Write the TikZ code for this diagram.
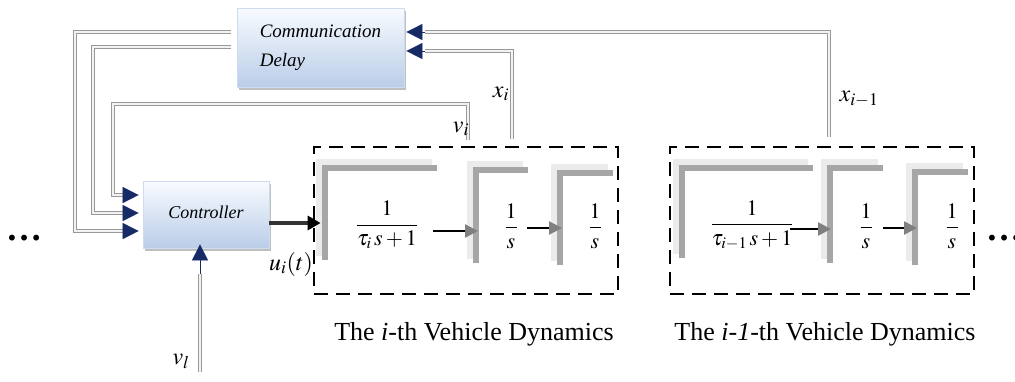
\documentclass[tikz,border=0pt]{standalone}
\usepackage{mathptmx}
\usepackage{fontspec}
\setmainfont{Liberation Serif}
\usetikzlibrary{arrows.meta,shadows,calc}
\definecolor{navyc}{RGB}{22,42,102}
\definecolor{boxtop}{RGB}{248,251,255}
\definecolor{boxbot}{RGB}{186,205,232}
\definecolor{boxedge}{RGB}{205,220,238}
\newcommand\grayL[4]{%
  \draw[lightL] (#1-5,#4-4) -- (#1-5,#2-5) -- (#3-5,#2-5);
  \draw[darkL] (#1,#4) -- (#1,#2) -- (#3,#2);}
\begin{document}
\begin{tikzpicture}[x=1pt,y=-1pt,
  blockbox/.style={rectangle, draw=boxedge, line width=0.6pt, top color=boxtop, bottom color=boxbot,
    drop shadow={shadow xshift=1.5pt, shadow yshift=-2.5pt, fill=black!45, opacity=0.55}, inner sep=0pt},
  pipe/.style={draw=black!40, line width=0.55pt, double=black!5, double distance=2pt},
  navyhead/.style={-{Triangle[length=16pt,width=16pt]}, navyc, line width=0.2pt},
  outarrow/.style={black!80, line width=4pt, -{Triangle[length=13pt,width=14pt,color=black]}},
  flowarrow/.style={black, line width=2.6pt, -{Triangle[length=13pt,width=13pt,color=black!50]}},
  dashbox/.style={draw=black, line width=2.8pt, dash pattern=on 14pt off 8pt,
    minimum width=304pt, minimum height=147pt, inner sep=0pt},
  lightL/.style={black!8, line width=9pt},
  darkL/.style={black!35, line width=5.5pt},
  frac/.style={font=\fontsize{22}{26}\selectfont, inner sep=0pt},
  lab/.style={font=\fontsize{24}{28}\selectfont, inner sep=0pt},
  captext/.style={font=\fontsize{26}{30}\selectfont, inner sep=0pt},
  dotstext/.style={font=\fontsize{36}{36}\selectfont\bfseries, inner sep=0pt}]
\path[use as bounding box, fill=white] (0,0) rectangle (1015,381);

% dashed vehicle boxes
\node[dashbox] (dyn1) at (466,220.5) {};
\node[dashbox] (dyn2) at (822,220.5) {};

% gray block brackets
\grayL{325}{168}{437}{260}
\grayL{476}{170}{528}{263}
\grayL{560}{173}{613}{265}
\grayL{682}{168}{813}{258}
\grayL{830}{168}{883}{263}
\grayL{915}{172}{968}{265}

% transfer functions
\node[frac] (f1) at (387,225) {$\displaystyle\frac{1}{\tau_i\, s+1}$};
\node[frac] (f2) at (511,226) {$\displaystyle\frac{1}{s}$};
\node[frac] (f3) at (595,226) {$\displaystyle\frac{1}{s}$};
\node[frac] (g1) at (752,225) {$\displaystyle\frac{1}{\tau_{i-1}\, s+1}$};
\node[frac] (g2) at (866,226) {$\displaystyle\frac{1}{s}$};
\node[frac] (g3) at (952,226) {$\displaystyle\frac{1}{s}$};

% block arrows
\coordinate (a1s) at (433,231); \coordinate (a1e) at (478,231);
\coordinate (a2s) at (527,228); \coordinate (a2e) at (562,228);
\coordinate (b1s) at (790,229); \coordinate (b1e) at (831,229);
\coordinate (b2s) at (883,228); \coordinate (b2e) at (917,228);
\draw[flowarrow] (a1s) -- (a1e);
\draw[flowarrow] (a2s) -- (a2e);
\draw[flowarrow] (b1s) -- (b1e);
\draw[flowarrow] (b2s) -- (b2e);

% boxes
\node[blockbox, minimum width=167pt, minimum height=79pt, align=left,
  font=\fontsize{19}{29}\selectfont\itshape] (delay) at (320.5,47.5) {Communication\\Delay};
\node[blockbox, minimum width=126pt, minimum height=67pt,
  font=\fontsize{18}{22}\selectfont\itshape] (ctrl) at (206,214.5) {\raisebox{5pt}{Controller}};

% feedback pipes to controller
\coordinate (p1) at (123,231);
\coordinate (p2) at (123,213);
\coordinate (p3) at (123,195);
\draw[pipe] ([xshift=-6pt,yshift=15.5pt]delay.west) -- (75,32) -- (75,231) -- (p1);
\draw[pipe] ([xshift=-6pt,yshift=0.5pt]delay.west) -- (93,47) -- (93,213) -- (p2);
\draw[pipe] ([xshift=2pt,yshift=6pt]dyn1.north) -- (468,104) -- (113,104) -- (113,195) -- (p3);
\draw[navyhead, shorten >=4pt] (p1) -- ([yshift=-16.5pt]ctrl.west);
\draw[navyhead, shorten >=4pt] (p2) -- ([yshift=1.5pt]ctrl.west);
\draw[navyhead, shorten >=4pt] (p3) -- ([yshift=19.5pt]ctrl.west);

% state pipes to delay
\coordinate (q1) at (425,51);
\coordinate (q2) at (425,32);
\draw[pipe] ([xshift=46pt,yshift=7pt]dyn1.north) -- (512,51) -- (q1);
\draw[pipe] ([xshift=7pt,yshift=9pt]dyn2.north) -- (829,32) -- (q2);
\draw[navyhead, shorten >=2pt] (q1) -- ([yshift=-3.5pt]delay.east);
\draw[navyhead, shorten >=2pt] (q2) -- ([yshift=15.5pt]delay.east);

% leader velocity
\coordinate (vl) at (200,372);
\coordinate (vh) at (200,274);
\draw[pipe] (vl) -- (vh);
\draw[navyhead, shorten >=-4pt] (vh) -- ([xshift=-6pt]ctrl.south);

% control output
\draw[outarrow] ([yshift=-8.5pt]ctrl.east) -- ([xshift=8pt,yshift=-2.5pt]dyn1.west);

% labels
\node[lab] (lvi) at (461,129) {$v_i$};
\node[lab] (lxi) at (501,94) {$x_i$};
\node[lab] (lxj) at (859,99) {$x_{i-1}$};
\node[lab] (lu) at (291,264) {$u_i(t)$};
\node[lab] (lvl) at (181,361) {$v_l$};

% captions
\node[captext] (c1) at (474,334) {The \textit{i}-th Vehicle Dynamics};
\node[captext] (c2) at (825,334) {The \textit{i-1}-th Vehicle Dynamics};

% ellipses
\node[dotstext] (dl) at (24,238) {…};
\node[dotstext] (dr) at (1004,238) {…};
\end{tikzpicture}
\end{document}
